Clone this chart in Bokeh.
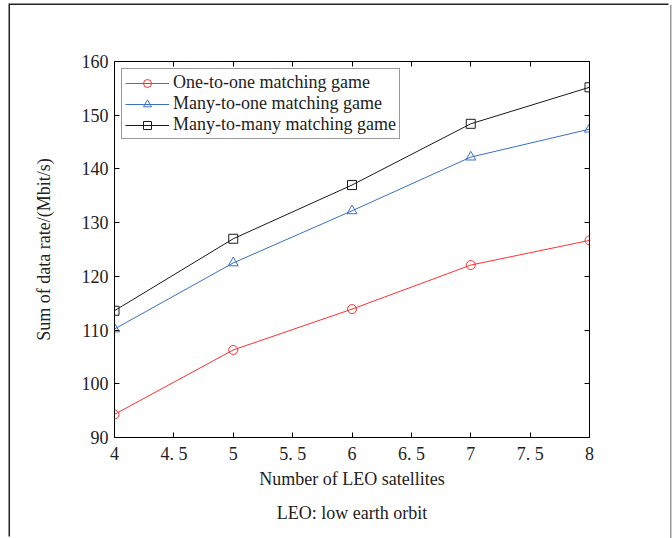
from bokeh.plotting import figure
from bokeh.models import Range1d, LinearAxis, FixedTicker, Legend, LegendItem, Title
from bokeh.embed import file_html
from bokeh.resources import INLINE

# ---- data ----
n_sats = [4, 5, 6, 7, 8]
one_to_one = [94.3, 106.3, 113.9, 122.1, 126.7]
many_to_one = [110.2, 122.5, 132.2, 142.2, 147.4]
many_to_many = [113.6, 127.0, 137.0, 148.4, 155.2]
series_names = ["One-to-one matching game", "Many-to-one matching game", "Many-to-many matching game"]
x_ticks = [4, 4.5, 5, 5.5, 6, 6.5, 7, 7.5, 8]
x_tick_labels = ["4", "4. 5", "5", "5. 5", "6", "6. 5", "7", "7. 5", "8"]
y_ticks = [90, 100, 110, 120, 130, 140, 150, 160]
x_label = "Number of LEO satellites"
y_label = "Sum of data rate/(Mbit/s)"
caption = "LEO: low earth orbit"

FONT = "Liberation Serif"
TXT = "#222222"

p = figure(width=660, height=533, output_backend="svg", toolbar_location=None,
           x_range=Range1d(4, 8), y_range=Range1d(90, 160),
           min_border_left=104, min_border_right=81, min_border_top=56, min_border_bottom=101)
p.margin = (5, 0, 0, 10)
p.styles = {"box-shadow": "-1.5px -1.5px 0 0 #222222, 1.5px 0 0 0 #9a9a9a"}
p.xgrid.visible = False
p.ygrid.visible = False
p.outline_line_color = "black"
p.outline_line_width = 1

def style_axis(ax, show_labels=True):
    ax.axis_line_color = "black"
    ax.major_tick_line_color = "black"
    ax.major_tick_in = 5
    ax.major_tick_out = 0
    ax.minor_tick_line_color = None
    ax.major_label_text_font = FONT
    ax.major_label_text_color = TXT if show_labels else None
    ax.major_label_text_font_size = "18px"
    ax.axis_label_text_font = FONT
    ax.axis_label_text_font_style = "normal"
    ax.axis_label_text_font_size = "18px"
    ax.axis_label_text_color = TXT

overrides = {t: l for t, l in zip(x_ticks, x_tick_labels)}

p.xaxis.ticker = FixedTicker(ticks=x_ticks)
p.xaxis.major_label_overrides = overrides
p.yaxis.ticker = FixedTicker(ticks=y_ticks)
style_axis(p.xaxis[0])
style_axis(p.yaxis[0])
p.xaxis.axis_label = x_label
p.yaxis.axis_label = y_label
p.xaxis.major_label_standoff = 6
p.xaxis.axis_label_standoff = 2
p.yaxis.major_label_standoff = 6
p.yaxis.axis_label_standoff = 25

top_ax = LinearAxis(ticker=FixedTicker(ticks=x_ticks))
style_axis(top_ax, False)
top_ax.major_label_standoff = 0
p.add_layout(top_ax, "above")
right_ax = LinearAxis(ticker=FixedTicker(ticks=y_ticks))
style_axis(right_ax, False)
right_ax.major_label_standoff = 0
p.add_layout(right_ax, "right")

colors = ["#ff3030", "#3a6fc4", "#1a1a1a"]
markers = ["circle", "triangle", "square"]
series = [one_to_one, many_to_one, many_to_many]
items = []
for name, ys, c, m in zip(series_names, series, colors, markers):
    l = p.line(n_sats, ys, line_color=c, line_width=1)
    s = p.scatter(n_sats, ys, marker=m, size=10 if m == "triangle" else 9,
                  line_color=c, fill_color=None, line_width=1)
    items.append(LegendItem(label=name, renderers=[l, s]))

legend = Legend(items=items, location="top_left", margin=7,
                label_text_font=FONT, label_text_font_size="18px", label_text_color=TXT,
                glyph_width=44, glyph_height=20, label_height=20, label_standoff=4,
                padding=3, spacing=0, border_line_color="#333333", border_line_width=1,
                background_fill_alpha=1)
p.add_layout(legend, "center")

cap = Title(text=caption, align="center", text_font=FONT, text_font_size="18px",
            text_font_style="normal", text_color=TXT, standoff=18)
p.add_layout(cap, "below")

open("out.html", "w").write(file_html(p, INLINE))
